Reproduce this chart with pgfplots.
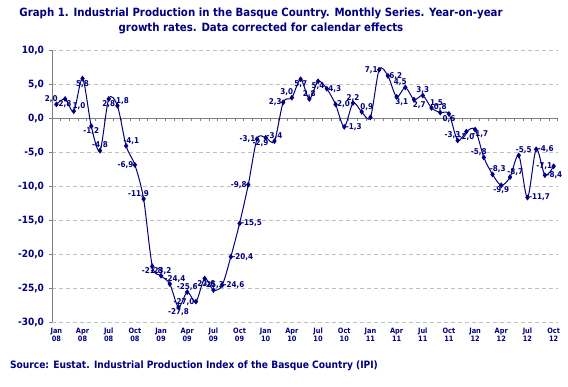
\documentclass[border=0pt]{standalone}
\usepackage{fontspec}
\setmainfont{DejaVu Sans Condensed}
\usepackage{pgfplots}
\usepackage{pgfplotstable}
\pgfplotsset{compat=1.18}
\definecolor{navy}{HTML}{000080}
\definecolor{gridgray}{HTML}{C0C0C0}
\definecolor{axgray}{HTML}{808080}

\pgfplotstableread{
x y lab anc
0 2.0 2,0 315
1 2.8 2,8 90
2 1.0 1,0 225
3 5.8 5,8 90
4 -1.2 -1,2 90
5 -4.8 -4,8 270
6 2.8 2,8 90
7 1.8 1,8 225
8 -4.1 -4,1 225
9 -6.9 -6,9 0
10 -11.9 -11,9 315
11 -21.8 -21,8 90
12 -23.2 -23,2 270
13 -24.4 -24,4 225
14 -27.8 -27,8 90
15 -25.6 -25,6 270
16 -27.0 -27,0 0
17 -23.6 -23,6 90
18 -25.3 -25,3 270
19 -24.6 -24,6 180
20 -20.4 -20,4 180
21 -15.5 -15,5 180
22 -9.8 -9,8 0
23 -3.1 -3,1 0
24 -2.9 -2,9 45
25 -3.4 -3,4 270
26 2.3 2,3 0
27 3.0 3,0 315
28 5.7 5,7 90
29 2.8 2,8 270
30 5.4 5,4 90
31 4.3 4,3 180
32 2.0 2,0 180
33 -1.3 -1,3 180
34 2.2 2,2 270
35 0.9 0,9 225
36 0.1 {} 1
37 7.1 7,1 0
38 6.2 6,2 180
39 3.1 3,1 135
40 4.5 4,5 315
41 2.7 2,7 135
42 3.3 3,3 270
43 1.5 1,5 225
44 0.8 0,8 270
45 0.6 0,6 90
46 -3.3 -3,3 315
47 -2.0 -2,0 90
48 -1.7 -1,7 135
49 -5.8 -5,8 315
50 -8.3 -8,3 225
51 -9.9 -9,9 90
52 -8.7 -8,7 225
53 -5.5 -5,5 225
54 -11.7 -11,7 180
55 -4.6 -4,6 180
56 -8.4 -8,4 180
57 -7.1 -7,1 0
}\ipi

\begin{document}
\begin{tikzpicture}[x=1pt,y=1pt]
\path[use as bounding box] (0,0) rectangle (426,289.5);
\begin{axis}[
  at={(39pt,48pt)}, anchor=south west, scale only axis,
  width=379.5pt, height=204pt,
  xmin=-0.5, xmax=57.5, ymin=-30, ymax=10,
  axis line style={draw=none},
  ytick={-30,-25,...,10},
  yticklabels={{-30,0},{-25,0},{-20,0},{-15,0},{-10,0},{-5,0},{0,0},{5,0},{10,0}},
  ytick pos=left, tick align=outside,
  ytick style={axgray, line width=0.75pt}, major tick length=2.5pt,
  ymajorgrids, grid style={gridgray, dash pattern=on 3pt off 2.25pt, line width=0.75pt},
  xtick={0,3,...,57},
  xticklabels={{Jan\\08},{Apr\\08},{Jul\\08},{Oct\\08},{Jan\\09},{Apr\\09},{Jul\\09},{Oct\\09},{Jan\\10},{Apr\\10},{Jul\\10},{Oct\\10},{Jan\\11},{Apr\\11},{Jul\\11},{Oct\\11},{Jan\\12},{Apr\\12},{Jul\\12},{Oct\\12}},
  xtick style={draw=none},
  xticklabel style={align=center, font=\bfseries\fontsize{5.5}{5.6}\selectfont, text=navy, inner sep=1pt, yshift=-1pt},
  yticklabel style={font=\bfseries\fontsize{7.5}{8}\selectfont, text=navy},
  clip=false,
]
\draw[axgray, line width=0.75pt] (rel axis cs:0,0) -- (rel axis cs:0,1);
\draw[axgray, line width=0.75pt] (axis cs:-0.5,0) -- (axis cs:57.5,0);
\pgfplotsinvokeforeach{-0.5,0.5,...,57.5}{\draw[axgray, line width=0.75pt] (axis cs:#1,0) -- (axis cs:#1,-0.45);}
\addplot[navy, line width=0.75pt, smooth, mark=diamond*, mark size=1.6pt,
  mark options={solid, fill=navy}]
  table[x=x,y=y]{\ipi};
\pgfplotsinvokeforeach{0,45,90,135,180,225,270,315}{
\addplot[draw=none, mark=none, forget plot,
  point meta=explicit symbolic, nodes near coords,
  x filter/.expression={\thisrow{anc}==#1 ? x : nan},
  unbounded coords=discard,
  every node near coord/.append style={anchor=#1, font=\bfseries\fontsize{6}{6.5}\selectfont, text=navy, inner sep=1pt}]
  table[x=x,y=y,meta=lab]{\ipi};
}
\end{axis}
\node[align=center, font=\bfseries\fontsize{8.5}{11.25}\selectfont, text=navy] at (195.75,274) {Graph 1. Industrial Production in the Basque Country. Monthly Series. Year-on-year\\growth rates. Data corrected for calendar effects};
\node[anchor=west, font=\bfseries\fontsize{7.6}{8}\selectfont, text=navy] at (4,15) {Source: Eustat. Industrial Production Index of the Basque Country (IPI)};
\end{tikzpicture}
\end{document}
